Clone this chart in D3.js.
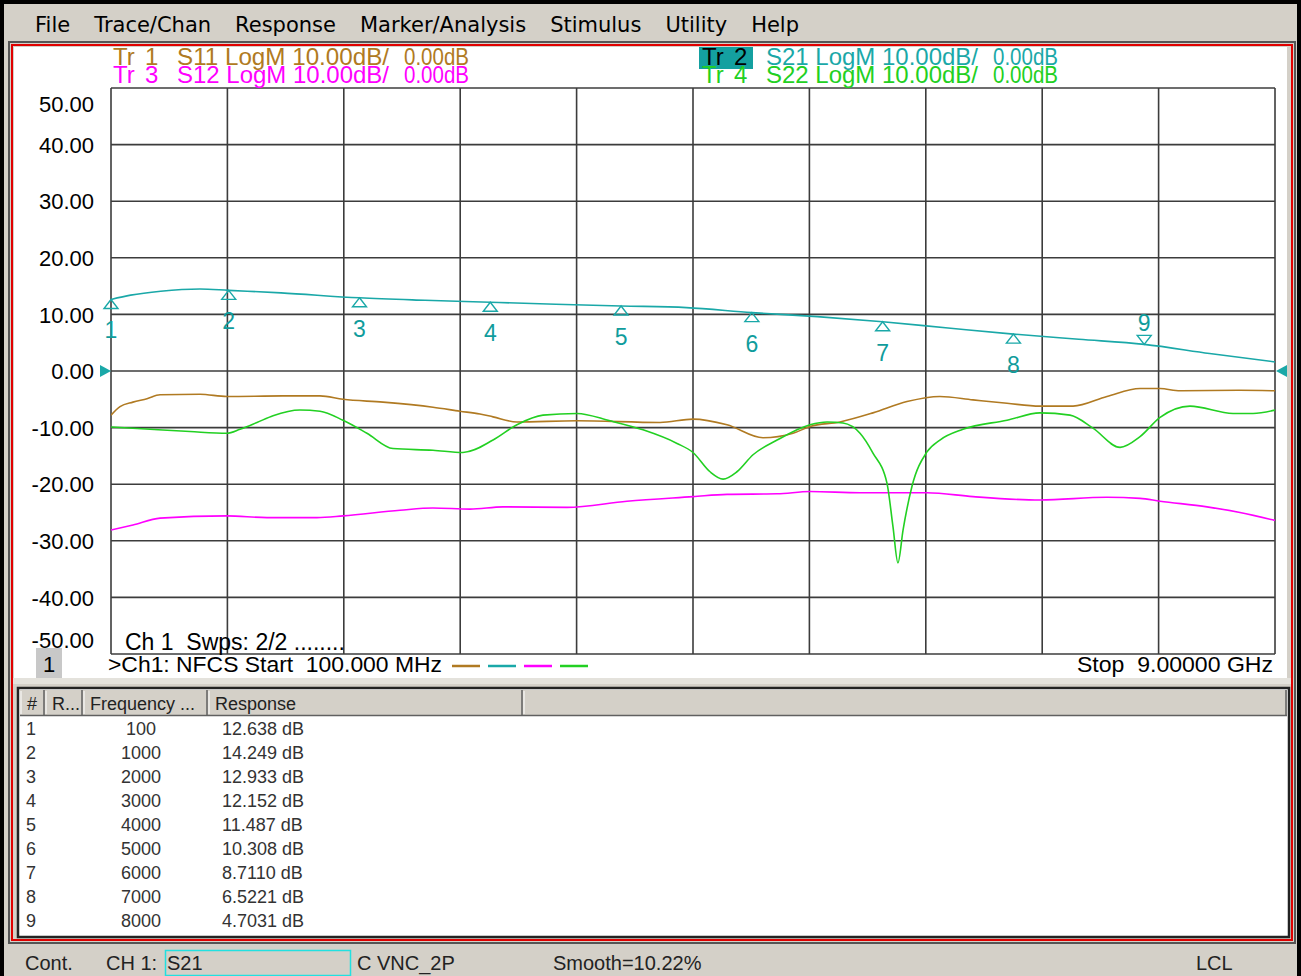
<!DOCTYPE html>
<html>
<head>
<meta charset="utf-8">
<script src="https://cdn.jsdelivr.net/npm/d3@7/dist/d3.min.js"></script>
<style>
  body { margin: 0; background: #d4d0c8; }
  svg { display: block; }
  .chart text { font-family: "Liberation Sans", Arial, sans-serif; }
</style>
</head>
<body>
<svg id="vna" width="1301" height="976"></svg>
<script>
// ---- data ----
const menuItems = ["File", "Trace/Chan", "Response", "Marker/Analysis", "Stimulus", "Utility", "Help"];

const yTicks = [50, 40, 30, 20, 10, 0, -10, -20, -30, -40, -50];

// S11 (Tr 1), frequency in MHz, value in dB
const s11Freq = [100, 169, 268, 375, 475, 780, 987, 1415, 1698, 1874, 2180, 2562, 2768, 2921, 3021, 3204, 3663, 4298, 4550, 4810, 5085, 5315, 5445, 5674, 5926, 6186, 6438, 6691, 6951, 7203, 7456, 7715, 7968, 8121, 8274, 8732, 9000];
const s11Db   = [-7.8, -6.3, -5.5, -4.9, -4.2, -4.1, -4.5, -4.4, -4.4, -5.0, -5.5, -6.4, -7.1, -7.6, -8.1, -9.0, -8.8, -9.1, -8.5, -9.5, -11.8, -11.0, -9.8, -9.0, -7.4, -5.4, -4.5, -5.1, -5.7, -6.2, -6.2, -4.5, -3.1, -3.1, -3.5, -3.4, -3.5];

// S21 (Tr 2)
const s21Freq = [100, 250, 480, 780, 1000, 1400, 2000, 2500, 3000, 3500, 4000, 4500, 5000, 5500, 6000, 6500, 7000, 7500, 8000, 8500, 9000];
const s21Db   = [12.64, 13.4, 14.1, 14.5, 14.25, 13.8, 12.93, 12.5, 12.15, 11.8, 11.49, 11.2, 10.31, 9.6, 8.71, 7.6, 6.52, 5.6, 4.70, 3.1, 1.6];

// S12 (Tr 3)
const s12Freq = [100, 268, 475, 987, 1293, 1675, 1874, 2310, 2562, 2845, 3097, 3587, 4045, 4550, 4810, 5193, 5445, 5827, 6339, 6691, 7203, 7715, 7968, 8121, 8480, 8732, 9000];
const s12Db   = [-28.1, -27.2, -26.0, -25.6, -25.9, -25.9, -25.6, -24.6, -24.2, -24.4, -24.0, -24.1, -23.0, -22.2, -21.8, -21.7, -21.3, -21.5, -21.5, -22.2, -22.8, -22.3, -22.5, -23.0, -24.0, -25.0, -26.4];

// S22 (Tr 4)
const s22Freq = [100, 398, 704, 987, 1086, 1216, 1339, 1545, 1698, 1874, 2057, 2256, 2562, 2791, 3021, 3204, 3403, 3663, 3915, 4168, 4428, 4550, 4680, 4780, 4886, 5009, 5193, 5445, 5575, 5697, 5827, 5926, 6033, 6079, 6117, 6156, 6224, 6339, 6438, 6614, 6951, 7203, 7433, 7608, 7815, 7968, 8121, 8350, 8679, 8832, 9000];
const s22Db   = [-9.9, -10.3, -10.7, -11.0, -10.3, -9.1, -7.9, -6.9, -7.1, -8.7, -11.0, -13.7, -14.0, -14.4, -12.2, -9.5, -7.8, -7.5, -8.8, -10.4, -12.8, -14.4, -17.8, -19.1, -17.8, -14.8, -12.2, -9.5, -9.0, -9.2, -11.0, -14.5, -19.8, -27.5, -33.9, -28.1, -20.4, -14.3, -12.2, -10.3, -8.7, -7.4, -7.8, -10.1, -13.5, -11.6, -8.2, -6.2, -7.5, -7.5, -6.9];

// markers on S21
const markerNum  = [1, 2, 3, 4, 5, 6, 7, 8, 9];
const markerFreq = [100, 1000, 2000, 3000, 4000, 5000, 6000, 7000, 8000];
const markerResp = ["12.638", "14.249", "12.933", "12.152", "11.487", "10.308", "8.7110", "6.5221", "4.7031"];

const traceNames  = ["Tr 1", "Tr 2", "Tr 3", "Tr 4"];
const traceParams = ["S11", "S21", "S12", "S22"];
const traceColors = ["#b07a22", "#1aa8a8", "#ff00ff", "#22d022"];

const statusItems = ["Cont.", "CH 1:", "S21", "C VNC_2P", "Smooth=10.22%", "LCL"];

// ---- drawing ----
let svg = d3.select("#vna");

// window frame
svg.append("rect").attr("x", 0).attr("y", 0).attr("width", 1301).attr("height", 976).attr("fill", "#d4d0c8");
svg.append("rect").attr("x", 0).attr("y", 0).attr("width", 4).attr("height", 976).attr("fill", "#000");
svg.append("rect").attr("x", 0).attr("y", 0).attr("width", 1301).attr("height", 4).attr("fill", "#000");
svg.append("rect").attr("x", 1297).attr("y", 0).attr("width", 4).attr("height", 976).attr("fill", "#000");

// menu bar
let mx = 35;
menuItems.forEach(function(m) {
    let t = svg.append("text")
        .attr("x", mx).attr("y", 32)
        .attr("font-family", "DejaVu Sans, sans-serif")
        .attr("font-size", "21px")
        .attr("fill", "#000")
        .text(m);
    mx += t.node().getComputedTextLength() + 24;
});

// measurement window outline
svg.append("rect").attr("x", 9).attr("y", 42).attr("width", 1286).attr("height", 901)
    .attr("fill", "none").attr("stroke", "#555").attr("stroke-width", 2);
svg.append("rect").attr("x", 12).attr("y", 45).attr("width", 1280).attr("height", 895)
    .attr("fill", "none").attr("stroke", "#e00000").attr("stroke-width", 2);

// chart panel
let chart = svg.append("g").attr("class", "chart");
svg.append("clipPath").attr("id", "panelClip")
    .append("rect").attr("x", 14).attr("y", 47).attr("width", 1273).attr("height", 631);
chart.append("rect").attr("x", 14).attr("y", 47).attr("width", 1273).attr("height", 631).attr("fill", "#fff");
chart.append("rect").attr("x", 13).attr("y", 678).attr("width", 1278).attr("height", 6).attr("fill", "#e4e2dc");

let x = d3.scaleLinear().domain([100, 9000]).range([111, 1275]);
let y = d3.scaleLinear().domain([-50, 50]).range([654, 88]);

let inner = chart.append("g").attr("clip-path", "url(#panelClip)");

// grid
let xGrid = d3.range(11).map(function(i) { return 100 + i * 890; });
inner.selectAll(".vgrid").data(xGrid).enter().append("line")
    .attr("x1", function(d) { return x(d); }).attr("x2", function(d) { return x(d); })
    .attr("y1", y(50)).attr("y2", y(-50))
    .attr("stroke", "#3c3c3c").attr("stroke-width", 1.6);
inner.selectAll(".hgrid").data(yTicks).enter().append("line")
    .attr("x1", x(100)).attr("x2", x(9000))
    .attr("y1", function(d) { return y(d); }).attr("y2", function(d) { return y(d); })
    .attr("stroke", "#3c3c3c").attr("stroke-width", 1.6);

// y axis labels (plain hyphen for negatives, like the instrument)
let yAxis = d3.axisLeft(y).tickValues(yTicks).tickSize(0).tickPadding(0)
    .tickFormat(function(d) { return d.toFixed(2); });
let yg = inner.append("g").attr("transform", "translate(94,0)").call(yAxis);
yg.select(".domain").remove();
yg.selectAll("text")
    .attr("font-family", "Liberation Sans, Arial, sans-serif")
    .attr("font-size", "22px")
    .attr("fill", "#000")
    .attr("dy", function(d) { return d == 50 ? "1.05em" : (d == -50 ? "-0.3em" : "0.35em"); });

// reference arrows at 0 dB
inner.append("path")
    .attr("d", "M" + (x(100) - 11) + "," + (y(0) - 6) + "L" + x(100) + "," + y(0) + "L" + (x(100) - 11) + "," + (y(0) + 6) + "Z")
    .attr("fill", traceColors[1]);
inner.append("path")
    .attr("d", "M" + (x(9000) + 12) + "," + (y(0) - 6) + "L" + (x(9000) + 1) + "," + y(0) + "L" + (x(9000) + 12) + "," + (y(0) + 6) + "Z")
    .attr("fill", traceColors[1]);

// traces
let line = d3.line()
    .x(function(d) { return x(d[0]); })
    .y(function(d) { return y(d[1]); })
    .curve(d3.curveMonotoneX);

let traces = [
    d3.zip(s11Freq, s11Db),
    d3.zip(s21Freq, s21Db),
    d3.zip(s12Freq, s12Db),
    d3.zip(s22Freq, s22Db)
];
svg.append("clipPath").attr("id", "plotClip")
    .append("rect").attr("x", x(100)).attr("y", y(50)).attr("width", x(9000) - x(100)).attr("height", y(-50) - y(50));
let tg = inner.append("g").attr("clip-path", "url(#plotClip)");
traces.forEach(function(tr, i) {
    tg.append("path")
        .datum(tr)
        .attr("d", line)
        .attr("fill", "none")
        .attr("stroke", traceColors[i])
        .attr("stroke-width", 1.6);
});

// markers
markerNum.forEach(function(n, i) {
    let mxp = x(markerFreq[i]);
    let myp = y(+markerResp[i]);
    let g = inner.append("g");
    if (n == 9) {
        g.append("path")
            .attr("d", "M" + (mxp - 7) + "," + (myp - 9) + "L" + (mxp + 7) + "," + (myp - 9) + "L" + mxp + "," + myp + "Z")
            .attr("fill", "none").attr("stroke", traceColors[1]).attr("stroke-width", 1.4);
        g.append("text").attr("x", mxp).attr("y", myp - 13)
            .attr("text-anchor", "middle").attr("font-size", "23px").attr("fill", "#109c9c").text(n);
    } else {
        g.append("path")
            .attr("d", "M" + mxp + "," + myp + "L" + (mxp + 7) + "," + (myp + 9) + "L" + (mxp - 7) + "," + (myp + 9) + "Z")
            .attr("fill", "none").attr("stroke", traceColors[1]).attr("stroke-width", 1.4);
        g.append("text").attr("x", mxp).attr("y", myp + 39)
            .attr("text-anchor", "middle").attr("font-size", "23px").attr("fill", "#109c9c").text(n);
    }
});

// trace titles
function traceTitle(i, tx, ty, boxed) {
    let g = inner.append("g");
    if (boxed) {
        g.append("rect").attr("x", tx - 3).attr("y", ty - 18).attr("width", 54).attr("height", 22).attr("fill", "#14a0a0");
    }
    let col = boxed ? "#000" : traceColors[i];
    let parts = traceNames[i].split(" ");
    g.append("text").attr("x", tx).attr("y", ty).attr("font-size", "24px").attr("fill", col).text(parts[0]);
    g.append("text").attr("x", tx + 32).attr("y", ty).attr("font-size", "24px").attr("fill", col).text(parts[1]);
    g.append("text").attr("x", tx + 64).attr("y", ty).attr("font-size", "24px").attr("fill", traceColors[i])
        .attr("textLength", 212).attr("lengthAdjust", "spacingAndGlyphs")
        .text(traceParams[i] + " LogM 10.00dB/");
    g.append("text").attr("x", tx + 291).attr("y", ty).attr("font-size", "24px").attr("fill", traceColors[i])
        .attr("textLength", 65).attr("lengthAdjust", "spacingAndGlyphs")
        .text("0.00dB");
}
traceTitle(0, 113, 65, false);
traceTitle(2, 113, 83, false);
traceTitle(1, 702, 65, true);
traceTitle(3, 702, 83, false);

// channel info
inner.append("text").attr("x", 125).attr("y", 650).attr("font-size", "23px").attr("fill", "#000")
    .attr("xml:space", "preserve").text("Ch 1  Swps: 2/2 ........");
inner.append("rect").attr("x", 36).attr("y", 648).attr("width", 26).attr("height", 30).attr("fill", "#c8c8c8");
inner.append("text").attr("x", 49).attr("y", 672).attr("text-anchor", "middle").attr("font-size", "22px").attr("fill", "#000").text("1");
inner.append("text").attr("x", 108).attr("y", 672).attr("font-size", "22px").attr("fill", "#000")
    .attr("xml:space", "preserve").attr("textLength", 334).attr("lengthAdjust", "spacingAndGlyphs")
    .text(">Ch1: NFCS Start  100.000 MHz");
traceColors.forEach(function(c, i) {
    inner.append("line").attr("x1", 452 + i * 36).attr("x2", 480 + i * 36).attr("y1", 666).attr("y2", 666)
        .attr("stroke", c).attr("stroke-width", 2.5);
});
inner.append("text").attr("x", 1273).attr("y", 672).attr("text-anchor", "end").attr("font-size", "22px").attr("fill", "#000")
    .attr("xml:space", "preserve").attr("textLength", 196).attr("lengthAdjust", "spacingAndGlyphs")
    .text("Stop  9.00000 GHz");

// marker table
let table = svg.append("g").attr("class", "chart");
table.append("rect").attr("x", 18).attr("y", 688).attr("width", 1271).attr("height", 249)
    .attr("fill", "#fff").attr("stroke", "#222").attr("stroke-width", 2.5);
table.append("rect").attr("x", 20).attr("y", 690).attr("width", 1267).attr("height", 25).attr("fill", "#d4d0c8");
let colEdges = [20, 45, 83, 208, 523, 1287];
let headers = ["#", "R...", "Frequency ...", "Response", ""];
headers.forEach(function(h, i) {
    table.append("line").attr("x1", colEdges[i + 1] - 1).attr("x2", colEdges[i + 1] - 1).attr("y1", 690).attr("y2", 715)
        .attr("stroke", "#606060").attr("stroke-width", 1.5);
    table.append("line").attr("x1", colEdges[i] + 1).attr("x2", colEdges[i] + 1).attr("y1", 691).attr("y2", 714)
        .attr("stroke", "#fff").attr("stroke-width", 1);
    table.append("text").attr("x", colEdges[i] + 7).attr("y", 710).attr("font-size", "18px").attr("fill", "#222").text(h);
});
table.append("line").attr("x1", 20).attr("x2", 1287).attr("y1", 715.5).attr("y2", 715.5).attr("stroke", "#606060").attr("stroke-width", 1.5);

markerNum.forEach(function(n, i) {
    let ry = 735 + i * 24;
    table.append("text").attr("x", 26).attr("y", ry).attr("font-size", "18px").attr("fill", "#333").text(n);
    table.append("text").attr("x", 141).attr("y", ry).attr("text-anchor", "middle").attr("font-size", "18px").attr("fill", "#333").text(markerFreq[i]);
    table.append("text").attr("x", 222).attr("y", ry).attr("font-size", "18px").attr("fill", "#333").text(markerResp[i] + " dB");
});

// status bar
let status = svg.append("g").attr("class", "chart");
let statusX = [25, 106, 167, 357, 553, 1196];
statusItems.forEach(function(s, i) {
    status.append("text").attr("x", statusX[i]).attr("y", 970).attr("font-size", "20px").attr("fill", "#222").text(s);
});
status.append("rect").attr("x", 165.5).attr("y", 950.5).attr("width", 185).attr("height", 25)
    .attr("fill", "none").attr("stroke", "#22e0e0").attr("stroke-width", 1.5);
</script>
</body>
</html>
